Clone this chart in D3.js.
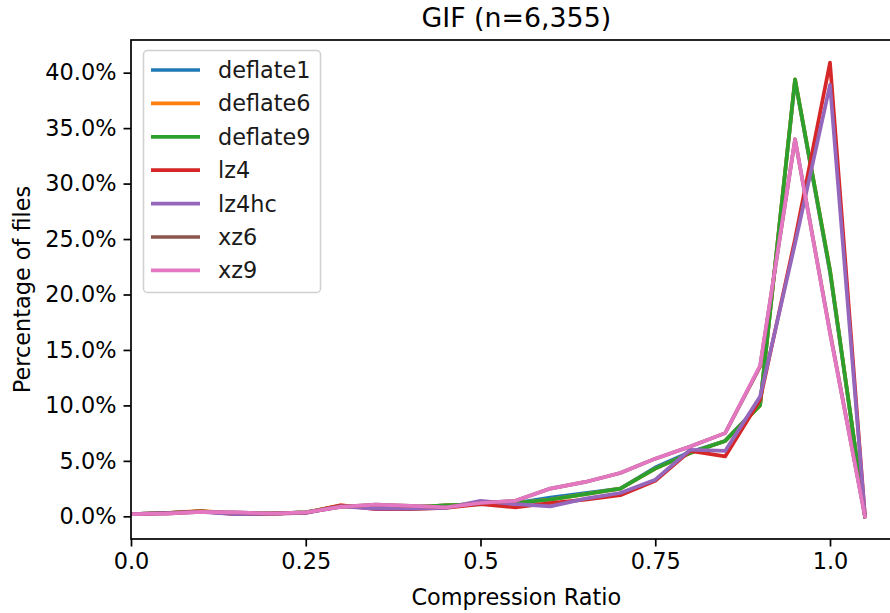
<!DOCTYPE html>
<html>
<head>
<meta charset="utf-8">
<script src="https://cdn.jsdelivr.net/npm/d3@7"></script>
<style>
  html, body { margin: 0; padding: 0; background: #fff; }
  svg { display: block; font-family: "DejaVu Sans", sans-serif; }
</style>
</head>
<body>
<svg id="chart" width="890" height="613"></svg>
<script>
// Compression ratio buckets (0.00 .. 1.05 in steps of 0.05)
const ratios = [0, 0.05, 0.1, 0.15, 0.2, 0.25, 0.3, 0.35, 0.4, 0.45, 0.5,
                0.55, 0.6, 0.65, 0.7, 0.75, 0.8, 0.85, 0.9, 0.95, 1.0, 1.05];

// Percentage of files per bucket, one array per codec
const deflate1 = [0.2, 0.3, 0.45, 0.25, 0.25, 0.35, 0.95, 0.75, 0.8, 1.0, 1.1,
                  1.2, 1.7, 2.1, 2.5, 4.4, 5.8, 6.8, 10.1, 39.3, 22.0, 0.0];
const deflate6 = [0.2, 0.3, 0.5, 0.25, 0.25, 0.35, 1.0, 0.75, 0.8, 1.0, 1.1,
                  1.2, 1.5, 2.0, 2.5, 4.3, 5.7, 6.8, 10.0, 39.4, 22.2, 0.0];
const deflate9 = [0.2, 0.3, 0.45, 0.25, 0.25, 0.35, 0.95, 0.75, 0.8, 1.0, 1.1,
                  1.2, 1.5, 2.0, 2.5, 4.3, 5.7, 6.8, 10.0, 39.4, 22.2, 0.0];
const lz4      = [0.2, 0.3, 0.45, 0.2, 0.25, 0.3, 1.0, 0.65, 0.65, 0.75, 1.1,
                  0.8, 1.2, 1.5, 1.9, 3.2, 5.9, 5.4, 10.5, 25.0, 40.9, 0.0];
const lz4hc    = [0.2, 0.3, 0.4, 0.2, 0.25, 0.3, 0.9, 0.7, 0.7, 0.75, 1.4,
                  1.1, 0.9, 1.6, 2.1, 3.3, 6.0, 5.9, 10.8, 24.6, 38.9, 0.0];
const xz6      = [0.2, 0.25, 0.4, 0.35, 0.25, 0.35, 0.85, 1.05, 0.95, 0.8, 1.2,
                  1.4, 2.5, 3.1, 3.9, 5.2, 6.3, 7.5, 13.5, 34.0, 16.6, 0.0];
const xz9      = [0.2, 0.25, 0.4, 0.35, 0.25, 0.35, 0.85, 1.05, 0.95, 0.8, 1.2,
                  1.4, 2.5, 3.1, 3.9, 5.2, 6.3, 7.5, 13.6, 34.0, 16.5, 0.0];

const seriesNames = ["deflate1", "deflate6", "deflate9", "lz4", "lz4hc", "xz6", "xz9"];
const seriesValues = [deflate1, deflate6, deflate9, lz4, lz4hc, xz6, xz9];
const colors = ["#1f77b4", "#ff7f0e", "#2ca02c", "#d62728", "#9467bd", "#8c564b", "#e377c2"];

const xTicks = [0, 0.25, 0.5, 0.75, 1.0];
const xTickLabels = ["0.0", "0.25", "0.5", "0.75", "1.0"];
const yTicks = [0, 5, 10, 15, 20, 25, 30, 35, 40];

const titleText = "GIF (n=6,355)";
const xLabel = "Compression Ratio";
const yLabel = "Percentage of files";

// Plot area
const plotLeft = 131, plotTop = 40, plotBottom = 539;
const unitWidth = 699; // pixels per 1.0 of compression ratio
const xMax = d3.max(ratios);
const xPad = xMax * 0.05;
const plotRight = plotLeft + (xMax + xPad) * unitWidth;

const yMaxData = d3.max(seriesValues.flat());
const yMinData = d3.min(seriesValues.flat());
const yPad = (yMaxData - yMinData) * 0.05;

const x = d3.scaleLinear().domain([0, xMax + xPad]).range([plotLeft, plotRight]);
const y = d3.scaleLinear().domain([yMinData - yPad, yMaxData + yPad]).range([plotBottom, plotTop]);

const svg = d3.select("#chart");
const fontSize = 22.4;
const lineWidth = 3.7;

svg.append("defs").append("clipPath").attr("id", "plot-clip")
  .append("rect").attr("x", plotLeft).attr("y", plotTop)
  .attr("width", plotRight - plotLeft).attr("height", plotBottom - plotTop);

// Series lines
const line = d3.line().x((d, i) => x(ratios[i])).y(d => y(d));
const lines = svg.append("g").attr("clip-path", "url(#plot-clip)");
seriesValues.forEach((vals, k) => {
  lines.append("path")
    .datum(vals)
    .attr("d", line)
    .attr("fill", "none")
    .attr("stroke", colors[k])
    .attr("stroke-width", lineWidth)
    .attr("stroke-linejoin", "round")
    .attr("stroke-linecap", "square");
});

// Axes
const xAxis = d3.axisBottom(x).tickValues(xTicks)
  .tickFormat((d, i) => xTickLabels[i]).tickSize(7.5).tickPadding(6.5).tickSizeOuter(0);
const yAxis = d3.axisLeft(y).tickValues(yTicks)
  .tickFormat(d => d3.format(".1f")(d) + "%").tickSize(7.5).tickPadding(7).tickSizeOuter(0);

const gx = svg.append("g").attr("transform", `translate(0,${plotBottom})`).call(xAxis);
const gy = svg.append("g").attr("transform", `translate(${plotLeft},0)`).call(yAxis);
[gx, gy].forEach(g => {
  g.select(".domain").remove();
  g.selectAll(".tick line").attr("stroke", "#000").attr("stroke-width", 1.7);
  g.selectAll(".tick text").attr("fill", "#000")
    .style("font-size", fontSize + "px").style("font-family", "DejaVu Sans");
});

// Frame
svg.append("rect")
  .attr("x", plotLeft).attr("y", plotTop)
  .attr("width", plotRight - plotLeft).attr("height", plotBottom - plotTop)
  .attr("fill", "none").attr("stroke", "#000").attr("stroke-width", 1.7);

// Title and axis labels
svg.append("text").attr("x", (plotLeft + plotRight) / 2).attr("y", 27)
  .attr("text-anchor", "middle").style("font-size", "26.8px").attr("fill", "#000")
  .text(titleText);
svg.append("text").attr("x", (plotLeft + plotRight) / 2).attr("y", 605)
  .attr("text-anchor", "middle").style("font-size", fontSize + "px").attr("fill", "#000")
  .text(xLabel);
svg.append("text")
  .attr("transform", `translate(30,${(plotTop + plotBottom) / 2}) rotate(-90)`)
  .attr("text-anchor", "middle").style("font-size", fontSize + "px").attr("fill", "#000")
  .text(yLabel);

// Legend
const legend = svg.append("g");
legend.append("rect")
  .attr("x", 143.5).attr("y", 50.5).attr("width", 177).attr("height", 242)
  .attr("rx", 4).attr("fill", "#fff").attr("fill-opacity", 0.8)
  .attr("stroke", "#d0d0d0").attr("stroke-width", 1.5);
seriesNames.forEach((name, k) => {
  const cy = 70 + k * 33.4;
  legend.append("line")
    .attr("x1", 151).attr("x2", 200).attr("y1", cy).attr("y2", cy)
    .attr("stroke", colors[k]).attr("stroke-width", lineWidth);
  legend.append("text")
    .attr("x", 218).attr("y", cy).attr("dy", "0.36em")
    .style("font-size", fontSize + "px").attr("fill", "#1a1a1a")
    .text(name);
});
</script>
</body>
</html>
